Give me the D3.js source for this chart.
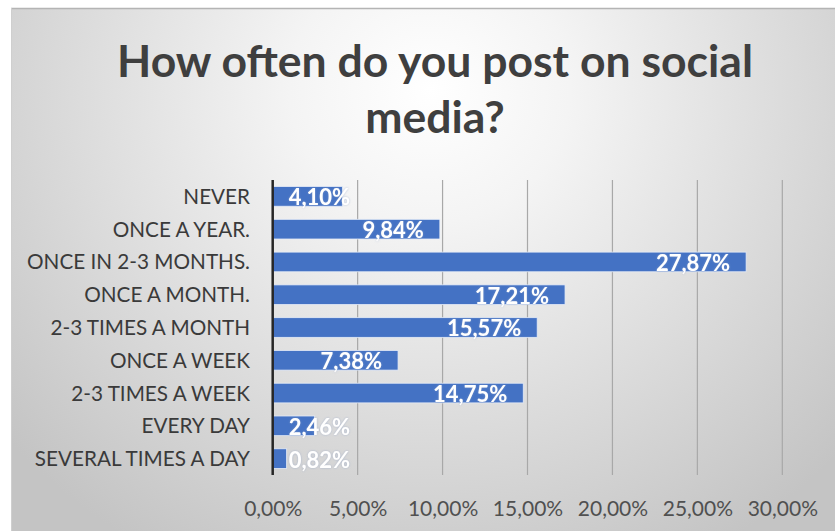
<!DOCTYPE html>
<html>
<head>
<meta charset="utf-8">
<script src="https://cdn.jsdelivr.net/npm/d3@7"></script>
<style>
  html, body { margin: 0; padding: 0; background: #ffffff; }
  svg { display: block; }
</style>
</head>
<body>
<svg id="chart" width="835" height="531"></svg>
<script>
// Survey answers, top to bottom, and their share of respondents (%)
const categories = [
  "NEVER",
  "ONCE A YEAR.",
  "ONCE IN 2-3 MONTHS.",
  "ONCE A MONTH.",
  "2-3 TIMES A MONTH",
  "ONCE A WEEK",
  "2-3 TIMES A WEEK",
  "EVERY DAY",
  "SEVERAL TIMES A DAY"
];
const shares = [4.10, 9.84, 27.87, 17.21, 15.57, 7.38, 14.75, 2.46, 0.82];
const tickValues = [0, 5, 10, 15, 20, 25, 30];
const titleLines = ["How often do you post on social", "media?"];

const W = 835, H = 531;
const svg = d3.select("#chart");

// Comma as decimal separator
const locale = d3.formatLocale({ decimal: ",", thousands: ".", grouping: [3], currency: ["", ""] });
const pct = v => locale.format(".2f")(v) + "%";

// Chart area with a soft radial background
const defs = svg.append("defs");
const grad = defs.append("radialGradient")
  .attr("id", "bg")
  .attr("gradientUnits", "userSpaceOnUse")
  .attr("cx", 430).attr("cy", 90).attr("r", 560)
  .attr("gradientTransform", "translate(430,90) scale(1,0.95) translate(-430,-90)");
grad.append("stop").attr("offset", "0%").attr("stop-color", "#ffffff");
grad.append("stop").attr("offset", "25%").attr("stop-color", "#f4f4f4");
grad.append("stop").attr("offset", "100%").attr("stop-color", "#c4c4c4");

const shadow = defs.append("filter").attr("id", "glow")
  .attr("x", "-10%").attr("y", "-30%").attr("width", "120%").attr("height", "160%");
shadow.append("feGaussianBlur").attr("in", "SourceAlpha").attr("stdDeviation", 0.8).attr("result", "b");
shadow.append("feFlood").attr("flood-color", "#8aa0c8").attr("flood-opacity", 0.6);
shadow.append("feComposite").attr("in2", "b").attr("operator", "in").attr("result", "s");
const m = shadow.append("feMerge");
m.append("feMergeNode").attr("in", "s");
m.append("feMergeNode").attr("in", "SourceGraphic");

svg.append("rect")
  .attr("x", 11).attr("y", 8)
  .attr("width", W - 11).attr("height", H - 8)
  .attr("fill", "url(#bg)");
svg.append("line")
  .attr("x1", 11).attr("x2", W).attr("y1", 8.5).attr("y2", 8.5)
  .attr("stroke", "#b4b4b4").attr("stroke-width", 1.5);
svg.append("line")
  .attr("x1", 11.5).attr("x2", 11.5).attr("y1", 8).attr("y2", H)
  .attr("stroke", "#cfcfcf").attr("stroke-width", 1);

// Title
svg.append("text")
  .attr("x", 435).attr("y", 0)
  .attr("text-anchor", "middle")
  .attr("font-family", "Lato, 'Open Sans', sans-serif")
  .attr("font-weight", 700)
  .attr("font-size", 44.5)
  .attr("fill", "#3f3f3f")
  .selectAll("tspan")
  .data(titleLines)
  .join("tspan")
  .attr("x", 435)
  .attr("y", (d, i) => 77 + i * 56)
  .text(d => d);

// Scales
const x = d3.scaleLinear().domain([0, 30]).range([272.7, 782.3]);
const y = d3.scaleBand().domain(categories).range([180, 475])
  .paddingInner(0.4).paddingOuter(0.2);

// Vertical gridlines
svg.append("g")
  .selectAll("line")
  .data(tickValues.slice(1))
  .join("line")
  .attr("x1", d => x(d)).attr("x2", d => x(d))
  .attr("y1", 180).attr("y2", 475)
  .attr("stroke", "#a8a8a8").attr("stroke-width", 1.2);

// X axis labels
const xAxis = d3.axisBottom(x).tickValues(tickValues).tickFormat(pct).tickSize(0).tickPadding(0);
const gx = svg.append("g").attr("transform", "translate(0,501)").call(xAxis);
gx.select(".domain").remove();
gx.selectAll("text")
  .attr("dy", "0.71em")
  .attr("y", 0)
  .attr("font-family", "Lato, 'Open Sans', sans-serif")
  .attr("font-size", 21)
  .attr("fill", "#505050");

// Category labels
const yAxis = d3.axisLeft(y).tickSize(0).tickPadding(0);
const gy = svg.append("g").attr("transform", "translate(250,0)").call(yAxis);
gy.select(".domain").remove();
gy.selectAll("text")
  .attr("font-family", "Lato, 'Open Sans', sans-serif")
  .attr("font-size", 20.7)
  .attr("dy", "0.36em")
  .attr("fill", "#3a3a3a");

// Bars
svg.append("g")
  .selectAll("rect")
  .data(shares)
  .join("rect")
  .attr("x", x(0))
  .attr("y", (d, i) => y(categories[i]))
  .attr("width", d => x(d) - x(0))
  .attr("height", y.bandwidth())
  .attr("fill", "#4472c4")
  .attr("stroke", "#e6ecf7")
  .attr("stroke-width", 0.8);

// Category axis line
svg.append("line")
  .attr("x1", x(0)).attr("x2", x(0))
  .attr("y1", 180).attr("y2", 475)
  .attr("stroke", "#262626").attr("stroke-width", 2.5);

// Value labels at the inside end of each bar
const labels = svg.append("g")
  .selectAll("text")
  .data(shares)
  .join("text")
  .attr("font-family", "Lato, 'Open Sans', sans-serif")
  .attr("font-weight", 700)
  .attr("font-size", 22)
  .attr("fill", "#ffffff")
  .attr("filter", "url(#glow)")
  .attr("dy", "0.36em")
  .attr("y", (d, i) => y(categories[i]) + y.bandwidth() / 2 + 1)
  .text(d => pct(d));
labels.each(function (d) {
  const w = this.getComputedTextLength();
  const start = Math.max(x(d) - 16 - w, x(0) + 16);
  d3.select(this).attr("x", start);
});
</script>
</body>
</html>
